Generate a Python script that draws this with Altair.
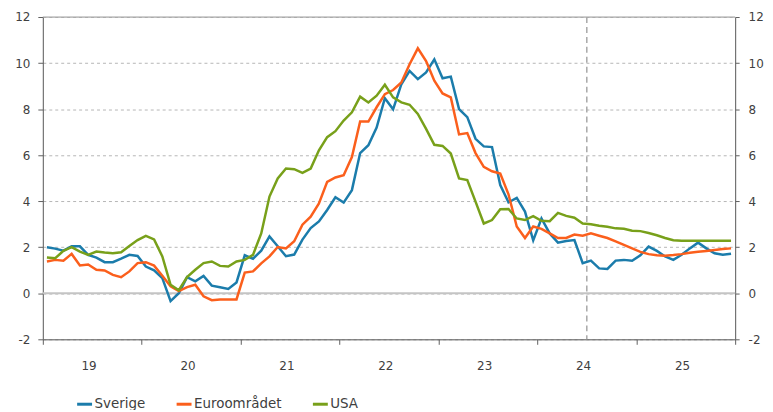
import altair as alt
import pandas as pd

series_names = ["Sverige", "Euroområdet", "USA"]
colors = ["#1b7cab", "#fb5f1c", "#78a01a"]

# monthly values Jan 2019 - Dec 2025
sverige = [2.0, 1.94, 1.85, 2.04, 2.04, 1.67, 1.55, 1.35, 1.35, 1.5, 1.67, 1.62,
           1.16, 1.0, 0.66, -0.34, 0.0, 0.7, 0.52, 0.75, 0.33, 0.26, 0.19, 0.47,
           1.65, 1.5, 1.85, 2.47, 2.04, 1.61, 1.68, 2.33, 2.83, 3.12, 3.62, 4.17,
           3.94, 4.48, 6.09, 6.43, 7.2, 8.47, 7.99, 9.08, 9.66, 9.3, 9.59, 10.16,
           9.34, 9.41, 8.0, 7.65, 6.71, 6.38, 6.35, 4.7, 3.95, 4.14, 3.55, 2.3,
           3.25, 2.6, 2.2, 2.27, 2.31, 1.31, 1.42, 1.08, 1.06, 1.42, 1.45, 1.41,
           1.65, 2.03, 1.84, 1.6, 1.45, 1.67, 1.95, 2.2, 1.95, 1.74, 1.67, 1.72]
euro = [1.38, 1.45, 1.41, 1.71, 1.21, 1.25, 1.02, 0.99, 0.8, 0.7, 0.95, 1.31,
        1.35, 1.2, 0.76, 0.3, 0.09, 0.27, 0.37, -0.13, -0.3, -0.27, -0.27, -0.27,
        0.9, 0.95, 1.3, 1.6, 2.01, 1.95, 2.26, 2.98, 3.33, 3.9, 4.84, 5.03,
        5.13, 5.92, 7.46, 7.46, 8.08, 8.65, 8.83, 9.16, 9.95, 10.64, 10.09, 9.23,
        8.68, 8.51, 6.9, 6.96, 6.09, 5.49, 5.3, 5.2, 4.3, 2.9, 2.4, 2.9,
        2.8, 2.6, 2.4, 2.4, 2.55, 2.5, 2.6, 2.5, 2.4, 2.25, 2.1, 1.95,
        1.8, 1.7, 1.65, 1.63, 1.66, 1.7, 1.76, 1.8, 1.84, 1.88, 1.92, 1.95]
usa = [1.55, 1.52, 1.84, 2.0, 1.81, 1.67, 1.81, 1.77, 1.74, 1.78, 2.05, 2.31,
       2.49, 2.34, 1.6, 0.37, 0.13, 0.7, 1.02, 1.31, 1.38, 1.19, 1.16, 1.38,
       1.45, 1.67, 2.6, 4.2, 4.99, 5.42, 5.39, 5.23, 5.42, 6.21, 6.78, 7.04,
       7.5, 7.86, 8.54, 8.29, 8.58, 9.06, 8.51, 8.29, 8.19, 7.79, 7.14, 6.45,
       6.4, 6.07, 4.99, 4.92, 3.98, 3.03, 3.18, 3.65, 3.66, 3.25, 3.18, 3.35,
       3.15, 3.13, 3.49, 3.36, 3.28, 3.03, 3.0, 2.93, 2.89, 2.82, 2.8, 2.72,
       2.7, 2.62, 2.52, 2.4, 2.3, 2.28, 2.28, 2.28, 2.28, 2.28, 2.28, 2.28]

year_ticks = [0, 12, 24, 36, 48, 60, 72, 84]
y_ticks = [-2, 0, 2, 4, 6, 8, 10, 12]
forecast_start = [66]
zero_line = [0]
top_line = [12]

rows = []
for name, vals in zip(series_names, [sverige, euro, usa]):
    for m, v in enumerate(vals):
        rows.append({"m": m + 0.5, "serie": name, "v": v})
df = pd.DataFrame(rows)

FONT = "DejaVu Sans"
TXT = "#404040"
AX = "#606060"
W, H = 696, 324
YLAB = "datum.value < 0 ? '-' + abs(datum.value) : '' + datum.value"

xscale = alt.Scale(domain=[0, 84], nice=False, zero=False)
yscale = alt.Scale(domain=[-2, 12], nice=False, zero=False)

xaxis = alt.Axis(values=year_ticks,
                 labelExpr="datum.value < 84 ? '' + (19 + datum.value / 12) : ''",
                 labelOffset=46, tickSize=5, labelPadding=16, grid=False,
                 domainColor=AX, tickColor=AX, labelColor=TXT, labelFontSize=12,
                 labelFont=FONT, title=None, labelFlush=False, labelOverlap=False)

yaxis_left = alt.Axis(values=y_ticks, orient="left", grid=True, gridDash=[3, 3],
                      gridColor="#b5b5b5", gridWidth=1, domainColor=AX, tickColor=AX,
                      tickSize=5, labelPadding=8, labelColor=TXT, labelFontSize=12,
                      labelFont=FONT, title=None, labelExpr=YLAB)
yaxis_right = alt.Axis(values=y_ticks, orient="right", grid=False, domainColor=AX,
                       tickColor=AX, tickSize=4, labelPadding=9, labelColor=TXT,
                       labelFontSize=12, labelFont=FONT, title=None, labelExpr=YLAB)

grid_top = alt.Chart(pd.DataFrame({"y": top_line})).mark_rule(
    color="#a0a0a0", strokeWidth=1).encode(
    y=alt.Y("y:Q", scale=yscale, axis=yaxis_right))

zero = alt.Chart(pd.DataFrame({"y": zero_line})).mark_rule(
    color="#c4c4c4", strokeWidth=2).encode(
    y=alt.Y("y:Q", scale=yscale, axis=None))

dash = alt.Chart(pd.DataFrame({"x": forecast_start})).mark_rule(
    color="#a8a8a8", strokeWidth=1.5, strokeDash=[6, 4]).encode(
    x=alt.X("x:Q", scale=xscale, axis=xaxis))

lines = alt.Chart(df).mark_line(strokeWidth=2.5).encode(
    x=alt.X("m:Q", scale=xscale, axis=xaxis),
    y=alt.Y("v:Q", scale=yscale, axis=yaxis_left),
    color=alt.Color("serie:N",
                    scale=alt.Scale(domain=series_names, range=colors),
                    sort=series_names,
                    legend=alt.Legend(title=None, orient="none", direction="horizontal",
                                      legendX=33, legendY=380, symbolType="stroke",
                                      symbolSize=225, symbolStrokeWidth=3,
                                      labelOffset=1, labelFont=FONT, labelFontSize=13.5,
                                      labelColor=TXT, columnPadding=24, gridAlign="each")),
    detail="serie:N",
)

chart = alt.layer(zero, grid_top, dash, lines).resolve_scale(y="independent").properties(
    width=W, height=H,
    padding={"left": 35, "top": 8, "right": 30, "bottom": 70},
    autosize=alt.AutoSizeParams(type="none"),
).configure_view(stroke=None).configure(background="white")

chart.save("out.html", embed_options={"renderer": "svg", "actions": False})
